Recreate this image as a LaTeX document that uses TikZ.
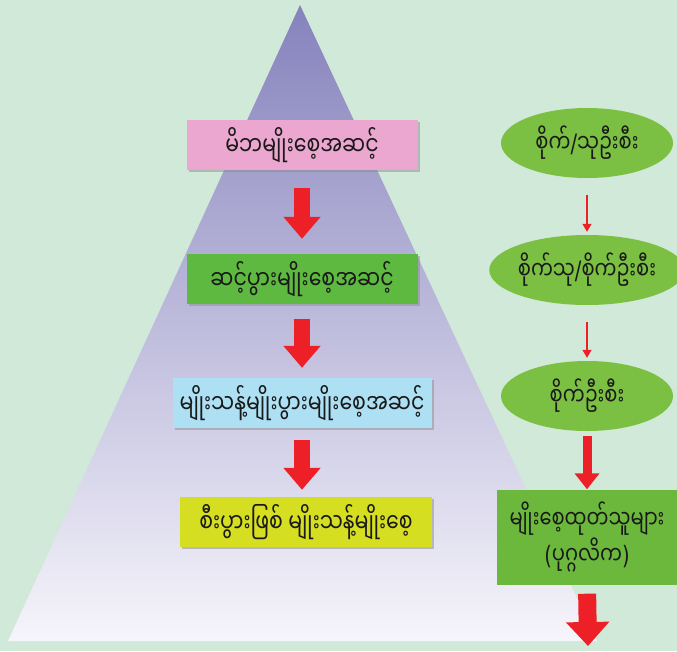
\documentclass[tikz,border=0pt]{standalone}
\usepackage{fontspec}
\usepackage{graphicx}
\newfontfamily\mmfont[Script=Myanmar]{Noto Sans Myanmar UI}
\newfontfamily\symfont{DejaVu Sans}
\newcommand{\talltext}[1]{\scalebox{1}[1.3]{#1}}
\usetikzlibrary{arrows.meta,shapes.geometric,shadows}
\definecolor{bg}{HTML}{D0E9D8}
\definecolor{pyrtop}{HTML}{8682BD}
\definecolor{pyrbot}{HTML}{F6F5FB}
\definecolor{pinkbox}{HTML}{EBA7CF}
\definecolor{greenbox}{HTML}{5DB93F}
\definecolor{bluebox}{HTML}{AEE0F4}
\definecolor{yellowbox}{HTML}{D6DE22}
\definecolor{ellgreen}{HTML}{7BC043}
\definecolor{rectgreen}{HTML}{6CB83C}
\definecolor{arrred}{HTML}{EE2027}
\tikzset{
  stagebox/.style={rectangle, draw=none, minimum height=50pt, inner sep=0pt,
    font=\mmfont\fontsize{20.5}{24}\selectfont, text=black!90,
    drop shadow={shadow xshift=2pt, shadow yshift=-2pt, fill=black!45}},
  orgell/.style={ellipse, fill=ellgreen, minimum width=172pt, minimum height=70pt, inner sep=0pt,
    font=\mmfont\fontsize{19.5}{22}\selectfont, text=black!90},
  bigarrow/.style={draw=arrred, line width=16pt, -{Triangle[length=22pt,width=36pt]}},
  thinarrow/.style={draw=arrred, line width=1.2pt, -{Triangle[length=8pt,width=9pt]}},
  medarrow/.style={draw=arrred, line width=9pt, -{Triangle[length=16pt,width=24pt]}},
}
\begin{document}
\begin{tikzpicture}[x=1pt,y=-1pt]
\useasboundingbox (0,0) rectangle (677,651);
\fill[bg] (0,0) rectangle (677,651);
\shade[top color=pyrtop, bottom color=pyrbot] (300,5) -- (597,641) -- (8,641) -- cycle;

\node[stagebox, fill=pinkbox, minimum width=231pt] (s1) at (302,145) {\talltext{မိဘမျိုးစေ့အဆင့်}};
\node[stagebox, fill=greenbox, minimum width=231pt] (s2) at (302,279) {\talltext{ဆင့်ပွားမျိုးစေ့အဆင့်}};
\node[stagebox, fill=bluebox, minimum width=259pt] (s3) at (302,403) {\talltext{မျိုးသန့်မျိုးပွားမျိုးစေ့အဆင့်}};
\node[stagebox, fill=yellowbox, minimum width=252pt] (s4) at (306,522) {\talltext{စီးပွားဖြစ် မျိုးသန့်မျိုးစေ့}};

\draw[bigarrow, shorten <=18pt, shorten >=15pt] (s1.south) -- (s2.north);
\draw[bigarrow, shorten <=15pt, shorten >=10pt] (s2.south) -- (s3.north);
\draw[bigarrow, shorten <=12pt, shorten >=7pt] (s3.south) -- (s3.south |- s4.north);

\node[orgell] (e1) at (587,143) {\talltext{စိုက်{\symfont /}သုဦးစီး}};
\node[orgell] (e2) at (587,270) {\talltext{စိုက်သု{\symfont /}စိုက်ဦးစီး}};
\node[orgell] (e3) at (587,396) {\talltext{စိုက်ဦးစီး}};
\node[rectangle, fill=rectgreen, minimum width=180pt, minimum height=95pt, inner sep=0pt,
  align=center, font=\mmfont\fontsize{19.5}{36}\selectfont, text=black!90] (r4) at (587,537)
  {\talltext{မျိုးစေ့ထုတ်သူများ}\\\talltext{{\symfont (}ပုဂ္ဂလိက{\symfont )}}};
\coordinate (end) at (588,646);

\draw[thinarrow, shorten <=17pt, shorten >=3pt] (e1.south) -- (e2.north);
\draw[thinarrow, shorten <=17pt, shorten >=3pt] (e2.south) -- (e3.north);
\draw[medarrow, shorten <=5pt, shorten >=0pt] (e3.south) -- (r4.north);
\draw[draw=arrred, line width=18pt, -{Triangle[length=24pt,width=42pt]}, shorten <=9pt] (r4.south) -- (end);
\end{tikzpicture}
\end{document}
